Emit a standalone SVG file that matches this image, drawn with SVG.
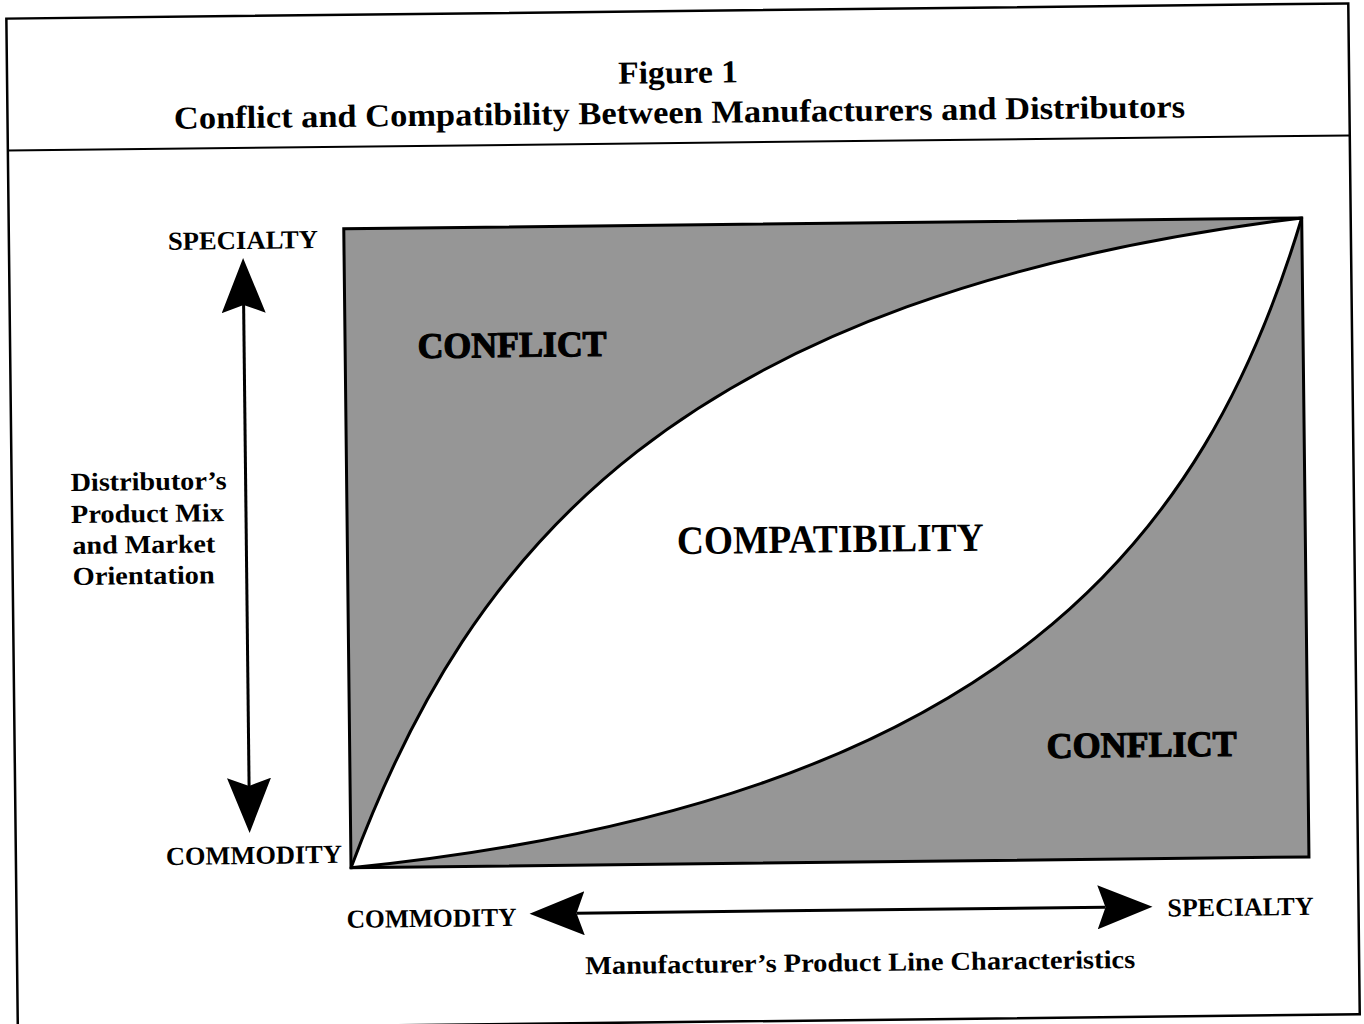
<svg xmlns="http://www.w3.org/2000/svg" width="1364" height="1024" viewBox="0 0 1364 1024">
  <style>
    .serif { font-family: "Liberation Serif", "Times New Roman", serif; font-weight: bold; fill: #000; }
    .title { font-size: 32px; text-anchor: middle; }
    .axis { font-size: 26px; }
    .mid { text-anchor: middle; }
    .region { font-size: 36px; text-anchor: middle; stroke: #000; stroke-width: 1.2px; }
    .big { font-size: 40px; text-anchor: middle; }
    .frame { fill: none; stroke: #000; stroke-width: 2.5; }
    .shaft { stroke: #000; stroke-width: 3; fill: none; }
  </style>
  <defs>
    <!-- barbed arrowhead: tip at x=55, notch at x=8 -->
    <marker id="barb" viewBox="0 0 56 44" refX="8" refY="22" markerWidth="56" markerHeight="44" markerUnits="userSpaceOnUse" orient="auto-start-reverse">
      <path d="M55,22 L0,0 L8,22 L0,44 Z" fill="#000"/>
    </marker>
  </defs>
  <rect width="1364" height="1024" fill="#fff"/>
  <g transform="rotate(-0.65 682 512)">
    <!-- outer box and header rule -->
    <g id="frame">
      <rect class="frame" x="12" y="11" width="1342" height="1011"/>
      <line x1="12" y1="143" x2="1354" y2="143" stroke="#000" stroke-width="2"/>
    </g>
    <g id="header">
      <text class="serif title" x="683" y="83" textLength="120" lengthAdjust="spacingAndGlyphs">Figure 1</text>
      <text class="serif title" x="684" y="123" textLength="1011" lengthAdjust="spacingAndGlyphs">Conflict and Compatibility Between Manufacturers and Distributors</text>
    </g>
    <!-- plot area: shaded field with the white lens between the two curves -->
    <g id="chart">
      <rect x="347" y="225" width="958" height="639" fill="#969696" stroke="#000" stroke-width="3"/>
      <path id="compatibility-zone" d="M347,864 C470,545 680,295 1305,225 C1205,545 1000,805 347,864 Z" fill="#fff" stroke="#000" stroke-width="3" stroke-linejoin="round"/>
    </g>
    <g id="conflict-upper">
      <text class="serif region" x="514" y="355" textLength="189" lengthAdjust="spacingAndGlyphs">CONFLICT</text>
    </g>
    <g id="conflict-lower">
      <text class="serif region" x="1139" y="762" textLength="190" lengthAdjust="spacingAndGlyphs">CONFLICT</text>
    </g>
    <g id="compatibility">
      <text class="serif big" x="830" y="554" textLength="307" lengthAdjust="spacingAndGlyphs">COMPATIBILITY</text>
    </g>
    <!-- vertical axis -->
    <g id="y-specialty">
      <text class="serif axis mid" x="246" y="244" textLength="150" lengthAdjust="spacingAndGlyphs">SPECIALTY</text>
    </g>
    <g id="y-commodity">
      <text class="serif axis mid" x="250" y="859" textLength="176" lengthAdjust="spacingAndGlyphs">COMMODITY</text>
    </g>
    <g id="y-title">
      <text class="serif axis" x="71" y="484" textLength="156" lengthAdjust="spacingAndGlyphs">Distributor’s</text>
      <text class="serif axis" x="71" y="516" textLength="153" lengthAdjust="spacingAndGlyphs">Product Mix</text>
      <text class="serif axis" x="72" y="547" textLength="143" lengthAdjust="spacingAndGlyphs">and Market</text>
      <text class="serif axis" x="72" y="578" textLength="142" lengthAdjust="spacingAndGlyphs">Orientation</text>
    </g>
    <!-- horizontal axis -->
    <g id="x-commodity">
      <text class="serif axis mid" x="427" y="924" textLength="170" lengthAdjust="spacingAndGlyphs">COMMODITY</text>
    </g>
    <g id="x-specialty">
      <text class="serif axis mid" x="1236" y="922" textLength="146" lengthAdjust="spacingAndGlyphs">SPECIALTY</text>
    </g>
    <g id="x-title">
      <text class="serif axis mid" x="855" y="973" textLength="550" lengthAdjust="spacingAndGlyphs">Manufacturer’s Product Line Characteristics</text>
    </g>
    <!-- double-headed axis arrows -->
    <g id="connectors">
      <line class="shaft" x1="246" y1="300" x2="246" y2="781" marker-start="url(#barb)" marker-end="url(#barb)"/>
      <line class="shaft" x1="572" y1="912" x2="1101" y2="912" marker-start="url(#barb)" marker-end="url(#barb)"/>
    </g>
  </g>
</svg>
